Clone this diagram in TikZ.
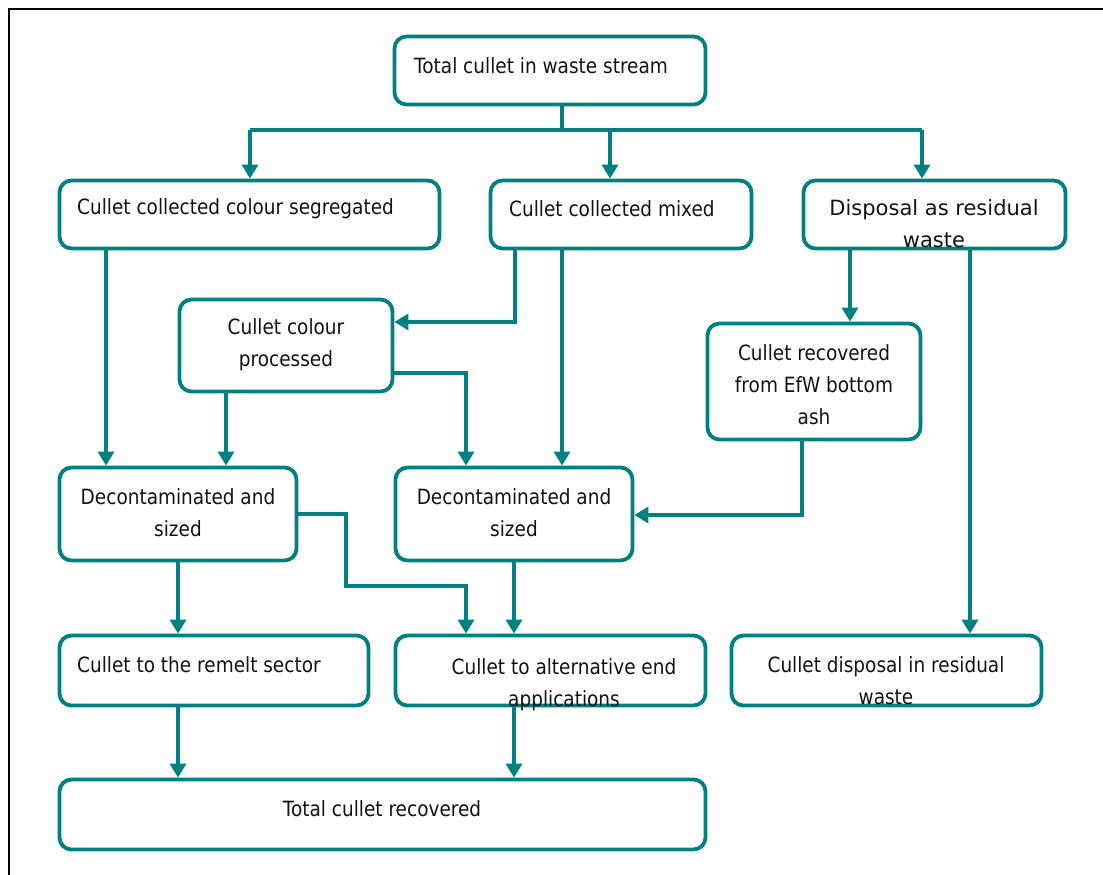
\documentclass[tikz,border=0pt]{standalone}
\usepackage{fontspec}
\setmainfont{DejaVu Sans}[FakeStretch=0.88]
\newfontfamily\wideface{DejaVu Sans}
\usetikzlibrary{arrows.meta}
\definecolor{tealc}{RGB}{0,128,128}
\begin{document}
\begin{tikzpicture}[x=1pt,y=-1pt,
  box/.style={draw=tealc, line width=3.8pt, rounded corners=12pt, inner sep=0pt},
  conn/.style={draw=tealc, line width=3.4pt},
  arr/.style={conn, -{Triangle[width=16pt,length=14pt]}},
  txt/.style={inner sep=0pt, font=\fontsize{21}{32}\selectfont, align=center, text=black!93}]
\useasboundingbox (0,0) rectangle (1103,875);
% outer frame
\draw[line width=1.8pt] (9,875) -- (9,9) -- (1103,9);
% boxes
\node[box, minimum width=311pt, minimum height=68pt] (b1) at (550,70.5) {};
\node[box, minimum width=380pt, minimum height=68pt] (b2) at (249.5,214.5) {};
\node[box, minimum width=261pt, minimum height=68pt] (b3) at (621,214.5) {};
\node[box, minimum width=262pt, minimum height=68pt] (b4) at (934.5,214.5) {};
\node[box, minimum width=213pt, minimum height=92pt] (b5) at (286,345.5) {};
\node[box, minimum width=213pt, minimum height=116pt] (b6) at (814,381.5) {};
\node[box, minimum width=237pt, minimum height=93pt] (b7) at (178,514) {};
\node[box, minimum width=237pt, minimum height=93pt] (b8) at (514,514) {};
\node[box, minimum width=309pt, minimum height=70pt] (b9) at (214,670.5) {};
\node[box, minimum width=310pt, minimum height=70pt] (b10) at (550.5,670.5) {};
\node[box, minimum width=310pt, minimum height=70pt] (b11) at (886.5,670.5) {};
\node[box, minimum width=646pt, minimum height=70pt] (b12) at (382.5,814.5) {};
% texts
\node[txt, anchor=west] (t1) at (414,66) {Total cullet in waste stream};
\node[txt, anchor=west] (t2) at (77,209) {Cullet collected colour segregated};
\node[txt, anchor=west] (t3) at (509,209) {Cullet collected mixed};
\node[txt, font=\wideface\fontsize{21}{32}\selectfont] (t4) at (934,224) {Disposal as residual\\waste};
\node[txt] (t5) at (286,345) {Cullet colour\\processed};
\node[txt] (t6) at (814,385) {Cullet recovered\\from EfW bottom\\ash};
\node[txt] (t7) at (178,513) {Decontaminated and\\sized};
\node[txt] (t8) at (514,513) {Decontaminated and\\sized};
\node[txt, anchor=west] (t9) at (77,665) {Cullet to the remelt sector};
\node[txt] (t10) at (564,685) {Cullet to alternative end\\applications};
\node[txt] (t11) at (886,681) {Cullet disposal in residual\\waste};
\node[txt] (t12) at (382,809) {Total cullet recovered};
% helper coordinates
\coordinate (j1) at (562,130);
\coordinate (jL) at (250,130);
\coordinate (jM) at (610,130);
\coordinate (jR) at (922,130);
\coordinate (c1) at (106,0);
\coordinate (c3) at (226,0);
\coordinate (c4) at (850,0);
\coordinate (c5) at (970,0);
\coordinate (k1) at (515,322);
\coordinate (k2) at (466,373);
\coordinate (k3) at (802,515);
\coordinate (k4) at (346,586);
% connectors
\draw[conn] (b1.south -| j1) -- (j1);
\draw[conn] (jL) -- (jR);
\draw[arr] (jL) -- (jL |- b2.north);
\draw[arr] (jM) -- (jM |- b3.north);
\draw[arr] (jR) -- (jR |- b4.north);
\draw[arr] (b2.south -| c1) -- (b7.north -| c1);
\draw[arr] (b3.south -| k1) -- (k1) -- (k1 -| b5.east);
\draw[arr] (b3.south -| j1) -- (b8.north -| j1);
\draw[arr] (b5.south -| c3) -- (b7.north -| c3);
\draw[arr] (k2 -| b5.east) -- (k2) -- (k2 |- b8.north);
\draw[arr] (b4.south -| c4) -- (b6.north -| c4);
\draw[arr] (b4.south -| c5) -- (b11.north -| c5);
\draw[arr] (b6.south -| k3) -- (k3) -- (k3 -| b8.east);
\draw[arr] (b7.south) -- (b7.south |- b9.north);
\draw[arr] (b7.east) -| (k4) -- (k4 -| k2) -- (k2 |- b10.north);
\draw[arr] (b8.south) -- (b8.south |- b10.north);
\draw[arr] (b9.south -| b7.south) -- (b7.south |- b12.north);
\draw[arr] (b10.south -| b8.south) -- (b8.south |- b12.north);
\end{tikzpicture}
\end{document}
